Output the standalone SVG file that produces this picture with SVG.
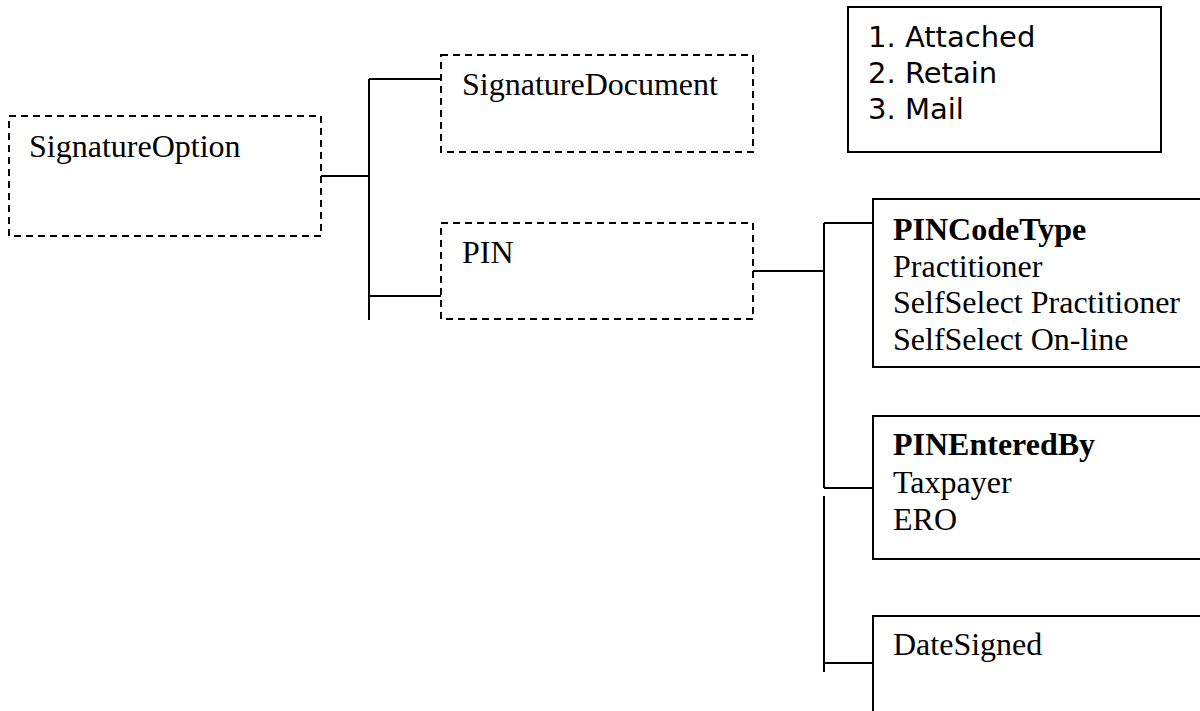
<svg xmlns="http://www.w3.org/2000/svg" width="1200" height="711" viewBox="0 0 1200 711">
<style>
.dash{fill:#fff;stroke:#000;stroke-width:2;stroke-dasharray:7 5}
.solid{fill:#fff;stroke:#000;stroke-width:2}
.t{font-family:"Liberation Serif","Times New Roman",serif;font-size:32px;fill:#000}
.b{font-weight:bold}
.v{font-family:"DejaVu Sans",Verdana,sans-serif;font-size:29px;fill:#000}
.c{fill:none;stroke:#000;stroke-width:2}
</style>
<rect width="1200" height="711" fill="#fff"/>
<g id="connectors">
<path class="c" d="M321 176H369M369 79V320M369 79H441M369 296H441"/>
<path class="c" d="M753 271H824M824 223V488M824 223H873M824 488H873M824 496V672M824 663H873"/>
</g>
<g id="SignatureOption">
<rect class="dash" x="9" y="116" width="312" height="120"/>
<text class="t" x="29" y="157">SignatureOption</text>
</g>
<g id="SignatureDocument">
<rect class="dash" x="441" y="55" width="312" height="97"/>
<text class="t" x="462" y="95">SignatureDocument</text>
</g>
<g id="PIN">
<rect class="dash" x="441" y="223" width="312" height="96"/>
<text class="t" x="462" y="263">PIN</text>
</g>
<g id="Legend">
<rect class="solid" x="848" y="7" width="313" height="145"/>
<text class="v" x="868" y="47">1. Attached</text>
<text class="v" x="868" y="83">2. Retain</text>
<text class="v" x="868" y="119">3. Mail</text>
</g>
<g id="PINCodeType">
<rect class="solid" x="873" y="199" width="340" height="168"/>
<text class="t" x="893" y="240"><tspan class="b">PINCodeType</tspan><tspan x="893" dy="36.5">Practitioner</tspan><tspan x="893" dy="36.5">SelfSelect Practitioner</tspan><tspan x="893" dy="36.5">SelfSelect On-line</tspan></text>
</g>
<g id="PINEnteredBy">
<rect class="solid" x="873" y="416" width="340" height="143"/>
<text class="t" x="893" y="455"><tspan class="b">PINEnteredBy</tspan><tspan x="893" dy="38">Taxpayer</tspan><tspan x="893" dy="37">ERO</tspan></text>
</g>
<g id="DateSigned">
<rect class="solid" x="873" y="616" width="340" height="120"/>
<text class="t" x="893" y="655">DateSigned</text>
</g>
</svg>
